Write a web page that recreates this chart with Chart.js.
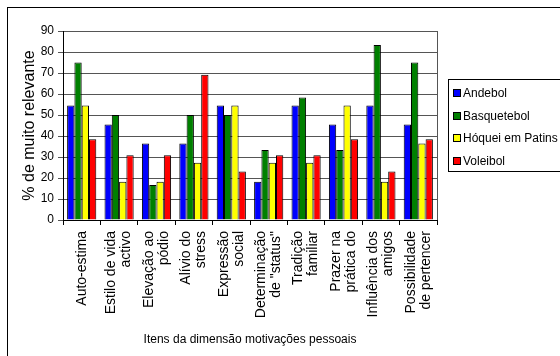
<!DOCTYPE html>
<html>
<head>
<meta charset="utf-8">
<script src="https://cdn.jsdelivr.net/npm/chart.js@4/dist/chart.umd.min.js"></script>
<style>
html,body{margin:0;padding:0;background:#fff;}
canvas{display:block;}
</style>
</head>
<body>
<canvas id="c" width="560" height="356"></canvas>
<script>
const categories = [
  ["Auto-estima"],
  ["Estilo de vida", "activo"],
  ["Elevação ao", "pódio"],
  ["Alívio do", "stress"],
  ["Expressão", "social"],
  ["Determinação", "de \"status\""],
  ["Tradição", "familiar"],
  ["Prazer na", "prática do"],
  ["Influência dos", "amigos"],
  ["Possibilidade", "de pertencer"]
];
const seriesNames = ["Andebol", "Basquetebol", "Hóquei em Patins", "Voleibol"];
const andebol     = [54.5, 45.5, 36.4, 36.4, 54.5, 18.2, 54.5, 45.5, 54.5, 45.5];
const basquetebol = [75, 50, 16.7, 50, 50, 33.3, 58.3, 33.3, 83.3, 75];
const hoquei      = [54.5, 18.2, 18.2, 27.3, 54.5, 27.3, 27.3, 54.5, 18.2, 36.4];
const voleibol    = [38.5, 30.8, 30.8, 69.2, 23.1, 30.8, 30.8, 38.5, 23.1, 38.5];
const yTicks = [0, 10, 20, 30, 40, 50, 60, 70, 80, 90];
const colors = ["#0000FF", "#008000", "#FFFF00", "#FF0000"];
const yTitle = "% de muito relevante";
const xTitle = "Itens da dimensão motivações pessoais";

const FONT = "'Liberation Sans', Arial, sans-serif";
const X_FONT_SIZE = 14, X_LINE_HEIGHT = 1.07;

const frame = {
  id: 'frame',
  beforeDraw(chart) {
    const ctx = chart.ctx;
    ctx.save();
    ctx.fillStyle = '#fff';
    ctx.fillRect(0, 0, chart.width, chart.height);
    ctx.strokeStyle = '#000';
    ctx.lineWidth = 1;
    ctx.strokeRect(7.5, 7.5, 700, 500);
    ctx.restore();
    // centre multi-line rotated category labels on their tick
    const sx = chart.scales.x;
    const items = sx.getLabelItems(chart.chartArea);
    const lh = X_FONT_SIZE * X_LINE_HEIGHT;
    items.forEach(it => {
      const n = Array.isArray(it.label) ? it.label.length : 1;
      if (n > 1 && it.options && it.options.translation) {
        it.options.translation[0] -= lh * (n - 1) / 2;
      }
    });
  },
  afterDatasetsDraw(chart) {
    const ctx = chart.ctx, a = chart.chartArea;
    ctx.save();
    ctx.strokeStyle = '#555';
    ctx.lineWidth = 1;
    ctx.beginPath();
    ctx.moveTo(Math.round(a.right) + 0.5, a.top);
    ctx.lineTo(Math.round(a.right) + 0.5, a.bottom);
    ctx.stroke();
    ctx.restore();
  },
  afterDraw(chart) {
    const ctx = chart.ctx;
    ctx.save();
    ctx.strokeStyle = '#000';
    ctx.lineWidth = 1;
    ctx.strokeRect(448.5, 79.5, 200, 92);
    ctx.font = "12px " + FONT;
    ctx.textBaseline = 'middle';
    ctx.textAlign = 'left';
    chart.data.datasets.forEach((ds, i) => {
      const cy = 93 + i * 22.5;
      ctx.fillStyle = ds.backgroundColor;
      ctx.fillRect(453.5, Math.round(cy - 4) + 0.5, 7, 7);
      ctx.strokeRect(453.5, Math.round(cy - 4) + 0.5, 7, 7);
      ctx.fillStyle = '#000';
      ctx.fillText(ds.label, 463, cy + 1);
    });
    ctx.restore();
  }
};

new Chart(document.getElementById('c'), {
  type: 'bar',
  data: {
    labels: categories,
    datasets: [
      { label: seriesNames[0], data: andebol, backgroundColor: colors[0] },
      { label: seriesNames[1], data: basquetebol, backgroundColor: colors[1] },
      { label: seriesNames[2], data: hoquei, backgroundColor: colors[2] },
      { label: seriesNames[3], data: voleibol, backgroundColor: colors[3] }
    ].map(d => Object.assign(d, { borderColor: '#000', borderWidth: 1, categoryPercentage: 0.78, barPercentage: 1.0 }))
  },
  options: {
    responsive: false,
    animation: false,
    devicePixelRatio: 1,
    layout: { padding: { left: 16, top: 31, right: 123, bottom: 5 } },
    plugins: { legend: { display: false }, tooltip: { enabled: false } },
    scales: {
      x: {
        grid: { display: true, drawOnChartArea: false, drawTicks: true, tickLength: 5, color: '#000', offset: true },
        border: { color: '#000', width: 1 },
        ticks: {
          autoSkip: false, minRotation: 90, maxRotation: 90, padding: 6,
          color: '#000', font: { family: FONT, size: X_FONT_SIZE, lineHeight: X_LINE_HEIGHT }
        },
        title: { display: true, text: xTitle, color: '#000', font: { family: FONT, size: 12 }, padding: { top: 4, bottom: 4 } },
        afterFit(s) { s.height = 131; }
      },
      y: {
        min: 0, max: 90,
        afterBuildTicks(s) { s.ticks = yTicks.map(v => ({ value: v })); },
        grid: { color: '#555', tickLength: 5, drawTicks: true },
        border: { color: '#000', width: 1 },
        ticks: { color: '#000', padding: 4, font: { family: FONT, size: 12 } },
        title: { display: true, text: yTitle, color: '#000', font: { family: FONT, size: 16 }, padding: { top: 4, bottom: 4 } },
        afterFit(s) { s.width = 47; }
      }
    }
  },
  plugins: [frame]
});
</script>
</body>
</html>
